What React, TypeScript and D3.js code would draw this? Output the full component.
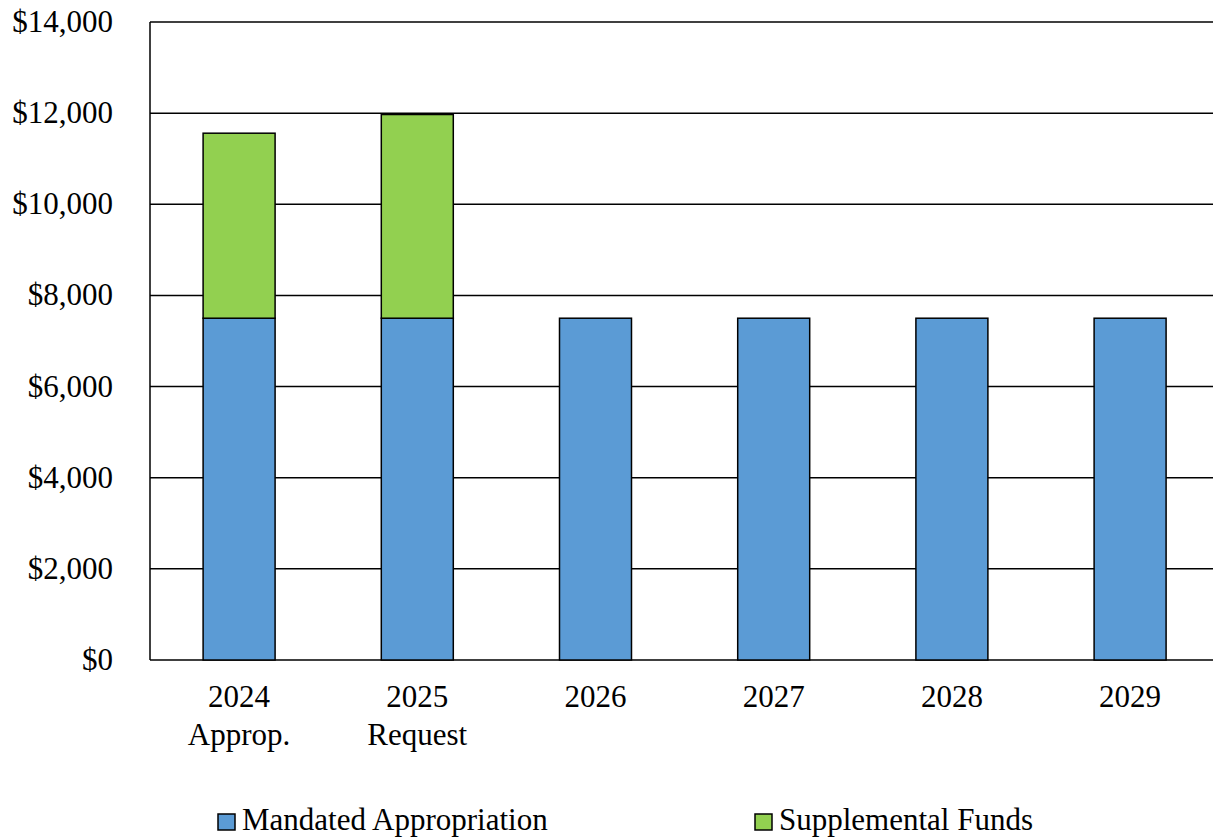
import React, { useEffect, useRef } from "react";
import * as d3 from "d3";

const categories = ["2024|Approp.", "2025|Request", "2026", "2027", "2028", "2029"];
const mandated = [7500, 7500, 7500, 7500, 7500, 7500];
const supplemental = [4060, 4470, 0, 0, 0, 0];
const yTicks = [0, 2000, 4000, 6000, 8000, 10000, 12000, 14000];
const seriesNames = ["Mandated Appropriation", "Supplemental Funds"];
const seriesColors = ["#5B9BD5", "#92D050"];

const FONT = "'Liberation Serif', 'Times New Roman', serif";

const App = () => {
    const svgRef = useRef<SVGSVGElement>(null);

    useEffect(() => {
        const width = 1213;
        const height = 839;
        const left = 150;
        const top = 22;
        const bottom = 660;

        const svg = d3.select(svgRef.current);
        svg.selectAll("*").remove();
        svg.attr("width", width).attr("height", height);

        const x = d3
            .scaleBand()
            .domain(categories)
            .range([left, left + 6 * 178.2])
            .paddingInner(0.596)
            .paddingOuter(0.298);

        const y = d3.scaleLinear().domain([0, 14000]).range([bottom, top]);

        // gridlines
        svg.append("g")
            .selectAll("line")
            .data(yTicks)
            .enter()
            .append("line")
            .attr("x1", left)
            .attr("x2", width)
            .attr("y1", (d) => y(d))
            .attr("y2", (d) => y(d))
            .attr("stroke", "#000")
            .attr("stroke-width", 1.5);

        // left axis line
        svg.append("line")
            .attr("x1", left)
            .attr("x2", left)
            .attr("y1", top)
            .attr("y2", bottom)
            .attr("stroke", "#000")
            .attr("stroke-width", 1.5);

        // y tick labels
        svg.append("g")
            .selectAll("text")
            .data(yTicks)
            .enter()
            .append("text")
            .attr("x", 113)
            .attr("y", (d) => y(d) + 10)
            .attr("text-anchor", "end")
            .attr("font-family", FONT)
            .attr("font-size", 31)
            .text((d) => "$" + d3.format(",")(d));

        const rows = categories.map((c, i) => ({ cat: c, m: mandated[i], s: supplemental[i] }));
        const stack = d3.stack<any>().keys(["m", "s"])(rows);

        stack.forEach((layer, li) => {
            svg.append("g")
                .selectAll("rect")
                .data(layer.filter((d) => d[1] - d[0] > 0))
                .enter()
                .append("rect")
                .attr("x", (d) => x(d.data.cat)!)
                .attr("width", x.bandwidth())
                .attr("y", (d) => y(d[1]))
                .attr("height", (d) => y(d[0]) - y(d[1]))
                .attr("fill", seriesColors[li])
                .attr("stroke", "#000")
                .attr("stroke-width", 1.5);
        });

        // x labels
        const xl = svg.append("g")
            .selectAll("text")
            .data(categories)
            .enter()
            .append("text")
            .attr("text-anchor", "middle")
            .attr("font-family", FONT)
            .attr("font-size", 31);
        xl.each(function (d) {
            const parts = d.split("|");
            const t = d3.select(this);
            parts.forEach((p, i) => {
                t.append("tspan")
                    .attr("x", x(d)! + x.bandwidth() / 2)
                    .attr("y", 707 + i * 38)
                    .text(p);
            });
        });

        // legend
        const legendX = [218, 755];
        seriesNames.forEach((name, i) => {
            svg.append("rect")
                .attr("x", legendX[i])
                .attr("y", 814)
                .attr("width", 17)
                .attr("height", 16)
                .attr("fill", seriesColors[i])
                .attr("stroke", "#000")
                .attr("stroke-width", 1.5);
            svg.append("text")
                .attr("x", legendX[i] + 24)
                .attr("y", 830)
                .attr("font-family", FONT)
                .attr("font-size", 31)
                .text(name);
        });
    }, []);

    return (
        <svg
            ref={svgRef}
            style={{ position: "absolute", left: 0, top: 0, background: "#fff" }}
        ></svg>
    );
};

export default App;
